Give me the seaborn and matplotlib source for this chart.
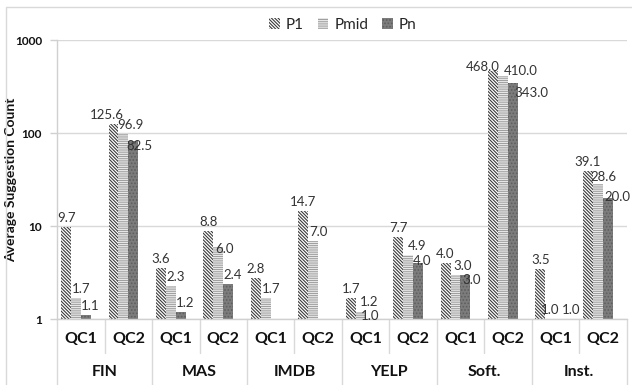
import numpy as np
import pandas as pd
import matplotlib
matplotlib.use("Agg")
import matplotlib.pyplot as plt
import matplotlib.transforms as mtransforms
from matplotlib.patches import Patch, Rectangle
import seaborn as sns

datasets = ["FIN", "MAS", "IMDB", "YELP", "Soft.", "Inst."]
queries = ["QC1", "QC2"]
series = ["P1", "Pmid", "Pn"]
p1 = [9.7, 125.6, 3.6, 8.8, 2.8, 14.7, 1.7, 7.7, 4.0, 468.0, 3.5, 39.1]
pmid = [1.7, 96.9, 2.3, 6.0, 1.7, 7.0, 1.2, 4.9, 3.0, 410.0, 1.0, 28.6]
pn = [1.1, 82.5, 1.2, 2.4, np.nan, np.nan, 1.0, 4.0, 3.0, 343.0, 1.0, 20.0]
yticks = [1, 10, 100, 1000]

cats = [f"{d}|{q}" for d in datasets for q in queries]
rows = []
for name, vals in zip(series, [p1, pmid, pn]):
    for c, v in zip(cats, vals):
        rows.append({"cat": c, "series": name, "value": v})
df = pd.DataFrame(rows)

# label placement nudges (pixels: right, up) mimicking the reference layout
default_dx = {"P1": 0, "Pmid": 5, "Pn": 4}
label_shift = {
    (1, "P1"): (-7, 0), (1, "Pmid"): (7, 0), (1, "Pn"): (6, -14),
    (3, "Pmid"): (6, -11),
    (6, "Pmid"): (8, 1), (6, "Pn"): (0, -6),
    (7, "Pmid"): (9, 0), (7, "Pn"): (4, -7),
    (8, "Pmid"): (7, 0), (8, "Pn"): (6, -14),
    (9, "P1"): (-10, -5), (9, "Pmid"): (18, -4), (9, "Pn"): (18, -19),
    (10, "Pmid"): (0, 0), (10, "Pn"): (11, 0),
    (11, "Pmid"): (6, -2), (11, "Pn"): (10, -8),
}

sns.set_theme(style="white")
plt.rcParams["font.family"] = ["Lato", "DejaVu Sans"]
plt.rcParams["hatch.linewidth"] = 0.8

fig = plt.figure(figsize=(6.32, 3.85), dpi=100)
ax = fig.add_axes([57.3 / 632, 1 - 319.3 / 385, (626.5 - 57.3) / 632, (319.3 - 40) / 385])
ax.set_yscale("log")

styles = {
    "P1": dict(facecolor="white", edgecolor="#3a3a3a", hatch="\\" * 10),
    "Pmid": dict(facecolor="white", edgecolor="#a0a0a0", hatch="-" * 9),
    "Pn": dict(facecolor="#7c7c7c", edgecolor="#5e5e5e", hatch="....."),
}

hue_order = series + [" "]
sns.barplot(data=df, x="cat", y="value", hue="series", order=cats,
            hue_order=hue_order, width=0.84, dodge=True, ax=ax,
            palette={s: "white" for s in hue_order}, legend=False,
            errorbar=None)

for cont, name in zip(ax.containers, series):
    st = styles[name]
    for bar, v in zip(cont, cont.datavalues):
        bar.set_facecolor(st["facecolor"])
        bar.set_edgecolor(st["edgecolor"])
        bar.set_hatch(st["hatch"])
        bar.set_linewidth(0)
        bar.set_alpha(None)
        if not np.isfinite(v):
            continue
        xc = bar.get_x() + bar.get_width() / 2
        idx = int(round(xc))
        dx, dy = label_shift.get((idx, name), (default_dx[name], 0))
        ax.annotate(f"{v:.1f}", xy=(xc, bar.get_y() + bar.get_height()),
                    xytext=(dx, 3 + dy), textcoords="offset pixels",
                    ha="center", va="bottom", fontsize=9.5, color="#333333",
                    annotation_clip=False)

ax.set_ylim(1, 1000)
ax.set_xlim(-0.5, len(cats) - 0.5)
ax.set_yticks(yticks)
ax.set_yticklabels([str(t) for t in yticks], fontsize=8.5, fontweight="bold", color="#111111")
ax.minorticks_off()
ax.yaxis.grid(True, color="#d9d9d9", linewidth=1)
ax.set_axisbelow(True)
ax.tick_params(axis="y", which="major", length=5, color="#d0d0d0", width=1, pad=6, left=True)
ax.set_xticks(range(len(cats)))
ax.set_xticklabels([c.split("|")[1] for c in cats], fontsize=11.5, fontweight="bold", color="#111111")
ax.tick_params(axis="x", length=0, pad=9)
ax.set_xlabel("")
ax.set_ylabel("Average Suggestion Count", fontsize=10, fontweight="bold", color="#111111")
ax.yaxis.set_label_coords((17 - 57.3) / (626.5 - 57.3), 0.5)
for s in ["top", "right"]:
    ax.spines[s].set_visible(False)
for s in ["left", "bottom"]:
    ax.spines[s].set_color("#d0d0d0")
    ax.spines[s].set_linewidth(1)

trans = mtransforms.blended_transform_factory(ax.transData, fig.transFigure)
y_axis_fig = 1 - 319.3 / 385
for i in range(len(cats) + 1):
    x = i - 0.5
    y_end = 0.0 if i % 2 == 0 else 1 - 353 / 385
    ax.plot([x, x], [y_axis_fig, y_end], transform=trans, color="#d9d9d9",
            linewidth=1, clip_on=False)
for j, d in enumerate(datasets):
    ax.text(2 * j + 0.5, 1 - 372 / 385, d, transform=trans, ha="center", va="center",
            fontsize=11.5, fontweight="bold", color="#111111")

handles = [Patch(facecolor=styles[s]["facecolor"], edgecolor=styles[s]["edgecolor"],
                 hatch=styles[s]["hatch"], linewidth=0, label=s) for s in series]
fig.legend(handles=handles, loc="center", bbox_to_anchor=(343 / 632, 1 - 25 / 385),
           ncol=3, frameon=False, fontsize=11, handlelength=0.7, handleheight=0.7,
           handletextpad=0.4, columnspacing=0.9)

fig.add_artist(Rectangle((6 / 632, -0.1), 1.2, 1 - 7 / 385 + 0.1, transform=fig.transFigure,
                         fill=False, edgecolor="#d9d9d9", linewidth=1))

fig.savefig("out.png", dpi=100)
